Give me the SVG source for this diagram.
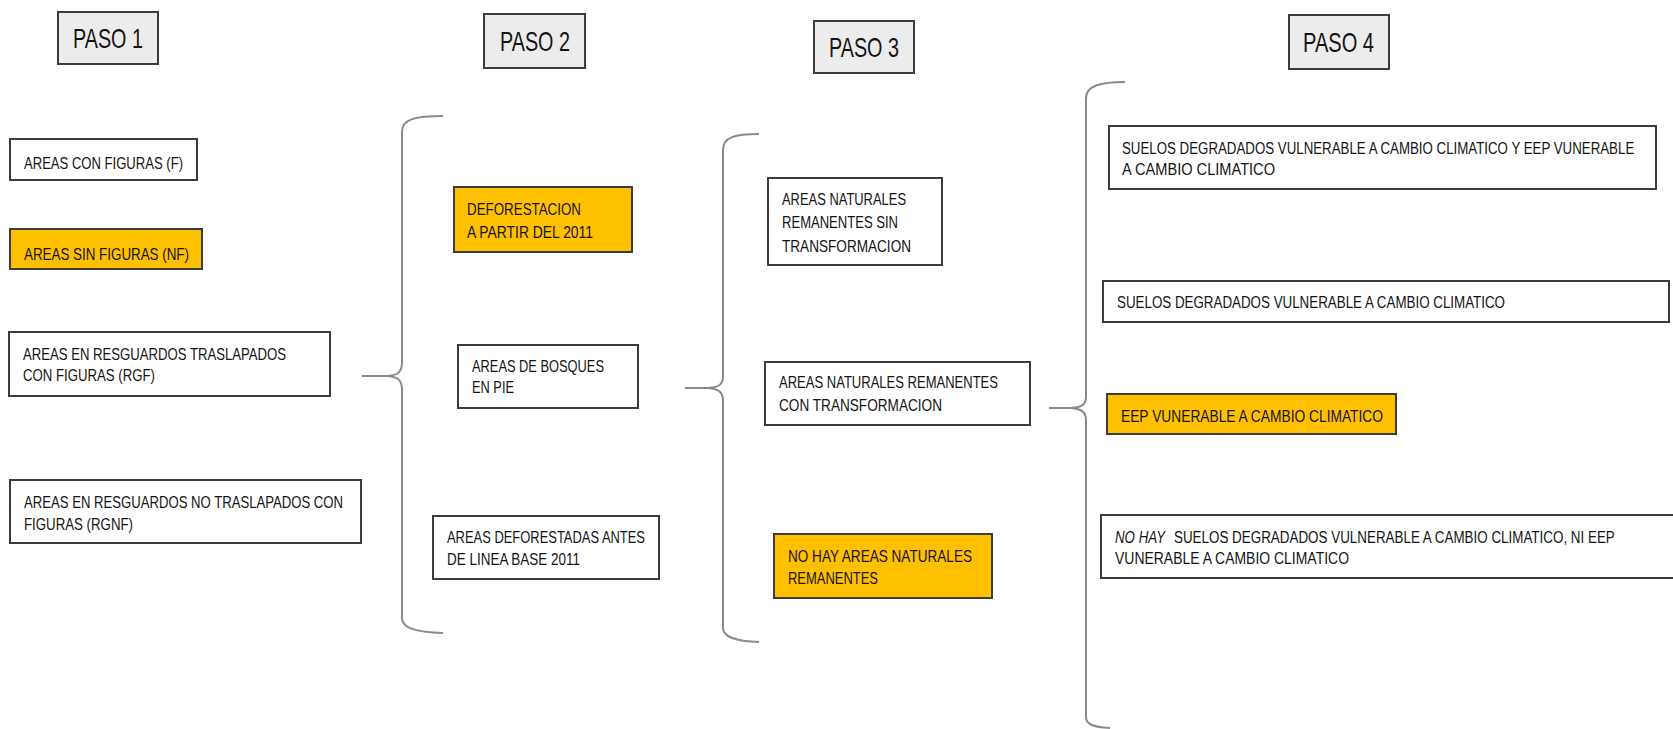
<svg xmlns="http://www.w3.org/2000/svg" width="1673" height="729" viewBox="0 0 1673 729" xml:space="preserve">
<style>
.box{fill:#ffffff;stroke:#3c3c3c;stroke-width:2}
.org{fill:#ffc000;stroke:#3c3c3c;stroke-width:2}
.step{fill:#ececec;stroke:#3c3c3c;stroke-width:2}
.t{font-family:"Liberation Sans",Arial,sans-serif;font-size:17px;fill:#141414}
.tp{font-family:"Liberation Sans",Arial,sans-serif;font-size:28px;fill:#141414}
.it{font-style:italic}
.brace{fill:none;stroke:#8a8a8a;stroke-width:2}
</style>
<rect width="1673" height="729" fill="#ffffff"/>

<g id="paso1"><rect class="step" x="58" y="12" width="100" height="52"/><text class="tp" x="73" y="48" textLength="70" lengthAdjust="spacingAndGlyphs">PASO 1</text></g>
<g id="paso2"><rect class="step" x="484" y="14" width="101" height="54"/><text class="tp" x="500" y="51" textLength="70" lengthAdjust="spacingAndGlyphs">PASO 2</text></g>
<g id="paso3"><rect class="step" x="814" y="21" width="100" height="52"/><text class="tp" x="829" y="57" textLength="70" lengthAdjust="spacingAndGlyphs">PASO 3</text></g>
<g id="paso4"><rect class="step" x="1289" y="15" width="100" height="54"/><text class="tp" x="1303" y="52" textLength="71" lengthAdjust="spacingAndGlyphs">PASO 4</text></g>

<g id="connectors">
<path class="brace" d="M443,116 C415,116 402,119 402,132 L402,362 C402,372 398,375 388,376 L362,376 M388,376 C398,377 402,380 402,390 L402,618 C402,628 415,632 443,633"/>
<path class="brace" d="M759,134 C735,134 723,137 723,150 L723,376 C723,385 719,387 708,388 L685,388 M708,388 C719,389 723,392 723,401 L723,628 C723,637 735,641 759,642"/>
<path class="brace" d="M1125,82 C1100,82 1086,86 1086,98 L1086,397 C1086,405 1082,407 1071,408 L1049,408 M1071,408 C1082,409 1086,412 1086,420 L1086,717 C1086,724 1092,727 1110,728"/>
</g>

<g id="n_f"><rect class="box" x="10" y="139" width="187" height="41"/><text class="t" x="24" y="169" textLength="159" lengthAdjust="spacingAndGlyphs">AREAS CON FIGURAS (F)</text></g>
<g id="n_nf"><rect class="org" x="10" y="229" width="192" height="40"/><text class="t" x="24" y="260" textLength="165" lengthAdjust="spacingAndGlyphs">AREAS  SIN FIGURAS (NF)</text></g>
<g id="n_rgf"><rect class="box" x="9" y="332" width="321" height="64"/><text class="t" x="23" y="360" textLength="263" lengthAdjust="spacingAndGlyphs">AREAS EN  RESGUARDOS TRASLAPADOS</text><text class="t" x="23" y="381" textLength="132" lengthAdjust="spacingAndGlyphs">CON FIGURAS (RGF)</text></g>
<g id="n_rgnf"><rect class="box" x="10" y="480" width="351" height="63"/><text class="t" x="24" y="508" textLength="319" lengthAdjust="spacingAndGlyphs">AREAS EN  RESGUARDOS NO TRASLAPADOS CON</text><text class="t" x="24" y="530" textLength="109" lengthAdjust="spacingAndGlyphs">FIGURAS (RGNF)</text></g>

<g id="n_def2011"><rect class="org" x="454" y="187" width="178" height="65"/><text class="t" x="467" y="215" textLength="114" lengthAdjust="spacingAndGlyphs">DEFORESTACION</text><text class="t" x="467" y="238" textLength="126" lengthAdjust="spacingAndGlyphs">A PARTIR DEL 2011</text></g>
<g id="n_bosques"><rect class="box" x="458" y="345" width="180" height="63"/><text class="t" x="472" y="372" textLength="132" lengthAdjust="spacingAndGlyphs">AREAS DE BOSQUES</text><text class="t" x="472" y="393" textLength="42" lengthAdjust="spacingAndGlyphs">EN PIE</text></g>
<g id="n_defantes"><rect class="box" x="433" y="516" width="226" height="63"/><text class="t" x="447" y="543" textLength="198" lengthAdjust="spacingAndGlyphs">AREAS DEFORESTADAS ANTES</text><text class="t" x="447" y="565" textLength="133" lengthAdjust="spacingAndGlyphs">DE LINEA BASE 2011</text></g>

<g id="n_sintrans"><rect class="box" x="768" y="178" width="174" height="87"/><text class="t" x="782" y="205" textLength="124" lengthAdjust="spacingAndGlyphs">AREAS NATURALES</text><text class="t" x="782" y="228" textLength="116" lengthAdjust="spacingAndGlyphs">REMANENTES SIN</text><text class="t" x="782" y="252" textLength="129" lengthAdjust="spacingAndGlyphs">TRANSFORMACION</text></g>
<g id="n_contrans"><rect class="box" x="765" y="362" width="265" height="63"/><text class="t" x="779" y="388" textLength="219" lengthAdjust="spacingAndGlyphs">AREAS NATURALES REMANENTES</text><text class="t" x="779" y="411" textLength="163" lengthAdjust="spacingAndGlyphs">CON TRANSFORMACION</text></g>
<g id="n_nohay"><rect class="org" x="774" y="534" width="218" height="64"/><text class="t" x="788" y="562" textLength="184" lengthAdjust="spacingAndGlyphs">NO HAY  AREAS NATURALES</text><text class="t" x="788" y="584" textLength="90" lengthAdjust="spacingAndGlyphs">REMANENTES</text></g>

<g id="n_suelos_eep"><rect class="box" x="1109" y="126" width="547" height="63"/><text class="t" transform="translate(1122,154) scale(0.76,1)" x="0" y="0" textLength="674" lengthAdjust="spacingAndGlyphs">SUELOS DEGRADADOS VULNERABLE A CAMBIO CLIMATICO Y  EEP VUNERABLE</text><text class="t" x="1122" y="175" textLength="153" lengthAdjust="spacingAndGlyphs">A  CAMBIO CLIMATICO</text></g>
<g id="n_suelos"><rect class="box" x="1103" y="281" width="566" height="41"/><text class="t" x="1117" y="308" textLength="388" lengthAdjust="spacingAndGlyphs">SUELOS DEGRADADOS VULNERABLE A CAMBIO CLIMATICO</text></g>
<g id="n_eep"><rect class="org" x="1107" y="394" width="289" height="40"/><text class="t" x="1121" y="422" textLength="262" lengthAdjust="spacingAndGlyphs">EEP VUNERABLE A  CAMBIO CLIMATICO</text></g>
<g id="n_ninguno"><rect class="box" x="1101" y="515" width="590" height="63"/><text class="t it" x="1115" y="543" textLength="50" lengthAdjust="spacingAndGlyphs">NO HAY</text><text class="t" transform="translate(1174,543) scale(0.76,1)" x="0" y="0" textLength="580" lengthAdjust="spacingAndGlyphs">SUELOS DEGRADADOS VULNERABLE A CAMBIO CLIMATICO,  NI EEP</text><text class="t" x="1115" y="564" textLength="234" lengthAdjust="spacingAndGlyphs">VUNERABLE A  CAMBIO CLIMATICO</text></g>
</svg>
